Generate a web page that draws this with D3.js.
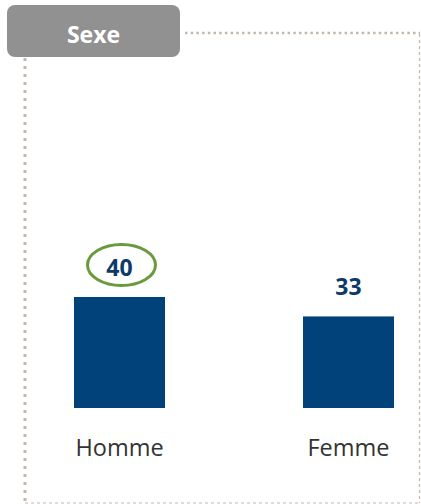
<!DOCTYPE html>
<html>
<head>
<meta charset="utf-8">
<script src="https://cdn.jsdelivr.net/npm/d3@7"></script>
<style>
  body { margin: 0; background: #fff; }
  svg { display: block; }
</style>
</head>
<body>
<div id="chart"></div>
<script>
// données
const title = "Sexe";
const categories = ["Homme", "Femme"];
const values = [40, 33];
const highlighted = ["Homme"];

const W = 421, H = 504;
const svg = d3.select("#chart").append("svg")
  .attr("width", W).attr("height", H);

// cadre pointillé
const frame = "#c2b8ad";
svg.append("line").attr("x1", 25).attr("x2", 25).attr("y1", 58).attr("y2", 503)
  .attr("stroke", frame).attr("stroke-width", 3).attr("stroke-dasharray", "3,5");
svg.append("line").attr("x1", 185).attr("x2", 420).attr("y1", 33).attr("y2", 33)
  .attr("stroke", frame).attr("stroke-width", 2.5).attr("stroke-dasharray", "2.5,3.2");
svg.append("line").attr("x1", 419.5).attr("x2", 419.5).attr("y1", 34).attr("y2", 503)
  .attr("stroke", frame).attr("stroke-width", 1.2).attr("stroke-dasharray", "3,3");
svg.append("line").attr("x1", 25).attr("x2", 420).attr("y1", 503).attr("y2", 503)
  .attr("stroke", frame).attr("stroke-width", 1.2).attr("stroke-dasharray", "3,3");

// onglet du titre
svg.append("rect").attr("x", 7).attr("y", 5).attr("width", 173).attr("height", 52)
  .attr("rx", 8).attr("fill", "#919191");
svg.append("text").attr("x", 93.5).attr("y", 43)
  .attr("text-anchor", "middle").attr("fill", "#fff")
  .attr("font-family", "Open Sans").attr("font-weight", "bold").attr("font-size", 23)
  .text(title);

// échelles
const x = d3.scaleBand().domain(categories).range([74, 394])
  .paddingInner(1 - 91 / 229).paddingOuter(0);
const y = d3.scaleLinear().domain([0, 40]).range([408, 297]);

const data = categories.map((c, i) => ({ cat: c, val: values[i] }));

// barres
svg.selectAll("rect.bar").data(data).enter().append("rect")
  .attr("class", "bar")
  .attr("x", d => x(d.cat))
  .attr("y", d => y(d.val))
  .attr("width", x.bandwidth())
  .attr("height", d => y(0) - y(d.val))
  .attr("fill", "#01427a");

// ellipse de mise en valeur
svg.selectAll("ellipse.hl").data(data.filter(d => highlighted.includes(d.cat))).enter()
  .append("ellipse")
  .attr("class", "hl")
  .attr("cx", d => x(d.cat) + x.bandwidth() / 2 + 2)
  .attr("cy", d => y(d.val) - 32)
  .attr("rx", 34).attr("ry", 20.5)
  .attr("fill", "none").attr("stroke", "#6b9a3e").attr("stroke-width", 3);

// étiquettes de valeur
svg.selectAll("text.val").data(data).enter().append("text")
  .attr("class", "val")
  .attr("x", d => x(d.cat) + x.bandwidth() / 2)
  .attr("y", d => y(d.val) - 21)
  .attr("text-anchor", "middle")
  .attr("fill", "#0d3a66")
  .attr("font-family", "Open Sans").attr("font-weight", "bold").attr("font-size", 23)
  .text(d => d.val);

// axe des catégories
const xAxis = d3.axisBottom(x).tickSize(0).tickPadding(0);
const gx = svg.append("g").attr("transform", "translate(0,0)").call(xAxis);
gx.select(".domain").remove();
gx.selectAll("text")
  .attr("dy", null).attr("y", 456)
  .attr("font-family", "Open Sans").attr("font-size", 23.5).attr("fill", "#333");
</script>
</body>
</html>
